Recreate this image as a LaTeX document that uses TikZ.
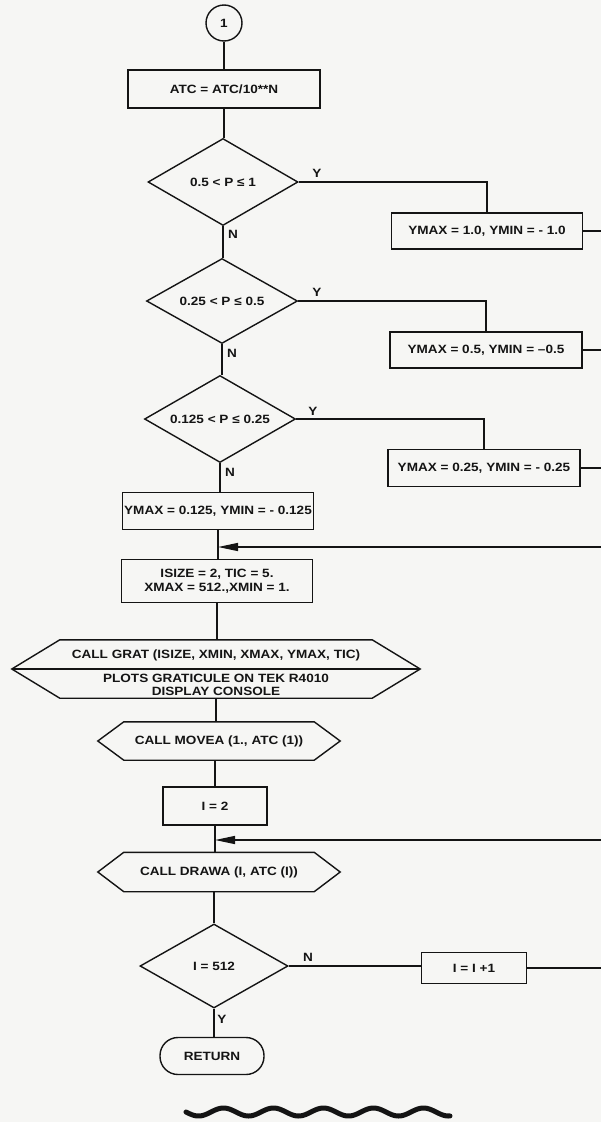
\documentclass[tikz,border=0pt]{standalone}
\usepackage{fontspec}
\setmainfont{Liberation Sans}[FakeStretch=1.13]
\usetikzlibrary{shapes.geometric,arrows.meta}
\newcommand\chartfont{\fontsize{12}{14}\bfseries\selectfont}
\newcommand\tightfont{\fontsize{12}{13}\bfseries\selectfont}
\definecolor{paper}{RGB}{246,246,244}
\definecolor{ink}{RGB}{20,20,20}
\begin{document}
\begin{tikzpicture}[x=1pt,y=-1pt,
  font=\chartfont, text=ink,
  ln/.style={draw=ink, line width=1.4pt},
  arr/.style={ln, -{Triangle[length=20pt,width=8pt]}},
  proc/.style={ln, rectangle, inner sep=2pt, align=center},
  dec/.style={ln, diamond, aspect=1.74, inner sep=0pt},
  conn/.style={ln, circle, minimum size=36pt, inner sep=0pt},
  term/.style={ln, rectangle, rounded corners=18pt, minimum width=104pt, minimum height=37pt},
  hexin/.style={rectangle, inner sep=0pt},
  lbl/.style={inner sep=0pt}]
\useasboundingbox (0,0) rectangle (601,1122);
\fill[paper] (0,0) rectangle (601,1122);

% main column
\node[conn] (c1) at (224,23) {1};
\node[proc, minimum width=192pt, minimum height=38pt] (atc) at (224,89) {ATC = ATC/10**N};
\node[dec, minimum width=150pt, minimum height=87pt] (d1) at (223,182) {0.5 < P ≤ 1};
\node[dec, minimum width=151pt, minimum height=85pt] (d2) at (222,301) {0.25 < P ≤ 0.5};
\node[dec, minimum width=151pt, minimum height=87pt] (d3) at (220,419) {0.125 < P ≤ 0.25};
\node[proc, minimum width=191pt, minimum height=37pt, inner sep=1pt] (b4) at (218,511) {YMAX = 0.125, YMIN = - 0.125};
\node[proc, minimum width=191pt, minimum height=43pt] (isize) at (217,581) {ISIZE = 2, TIC = 5.\\XMAX = 512.,XMIN = 1.};
\node[hexin, minimum width=312pt, minimum height=58pt] (grat) at (216,669) {};
\node[hexin, minimum width=190pt, minimum height=38pt] (movea) at (219,741) {CALL MOVEA (1., ATC (1))};
\node[proc, minimum width=104pt, minimum height=38pt] (i2) at (215,806) {I = 2};
\node[hexin, minimum width=190pt, minimum height=39pt] (drawa) at (219,872) {CALL DRAWA (I, ATC (I))};
\node[dec, minimum width=148pt, minimum height=84pt] (d4) at (214,966) {I = 512};
\node[term] (ret) at (212,1056) {RETURN};

% side boxes
\node[proc, minimum width=191pt, minimum height=36pt] (b1) at (487,231) {YMAX = 1.0, YMIN = - 1.0};
\node[proc, minimum width=192pt, minimum height=36pt] (b2) at (486,350) {YMAX = 0.5, YMIN = –0.5};
\node[proc, minimum width=192pt, minimum height=37pt] (b3) at (484,468) {YMAX = 0.25, YMIN = - 0.25};
\node[proc, minimum width=105pt, minimum height=31pt] (ii) at (474,968) {I = I +1};

% hexagon outlines
\coordinate (gratL) at ([xshift=-48pt]grat.west);
\coordinate (gratR) at ([xshift=48pt]grat.east);
\draw[ln] (grat.north west) -- (grat.north east) -- (gratR) -- (grat.south east)
  -- (grat.south west) -- (gratL) -- cycle;
\draw[ln] (gratL) -- (gratR);
\node[lbl] (gratT) at (216,655) {CALL GRAT (ISIZE, XMIN, XMAX, YMAX, TIC)};
\node[lbl, align=center, font=\tightfont] (gratB) at (216,684.5) {PLOTS GRATICULE ON TEK R4010\\DISPLAY CONSOLE};

\coordinate (moveaL) at ([xshift=-26pt]movea.west);
\coordinate (moveaR) at ([xshift=26pt]movea.east);
\draw[ln] (movea.north west) -- (movea.north east) -- (moveaR) -- (movea.south east)
  -- (movea.south west) -- (moveaL) -- cycle;

\coordinate (drawaL) at ([xshift=-26pt]drawa.west);
\coordinate (drawaR) at ([xshift=26pt]drawa.east);
\draw[ln] (drawa.north west) -- (drawa.north east) -- (drawaR) -- (drawa.south east)
  -- (drawa.south west) -- (drawaL) -- cycle;

% right-edge ends
\coordinate (e1) at (601,231);
\coordinate (e2) at (601,350);
\coordinate (e3) at (601,468);
\coordinate (m1) at (601,547);
\coordinate (m2) at (601,840);
\coordinate (e4) at (601,968);

% main connectors (kept vertical)
\draw[ln] (c1.south) -- (c1.south |- atc.north);
\draw[ln] (atc.south) -- (atc.south |- d1.north);
\draw[ln] (d1.south) -- (d1.south |- d2.north);
\draw[ln] (d2.south) -- (d2.south |- d3.north);
\draw[ln] (d3.south) -- (d3.south |- b4.north);
\draw[ln] (b4.south) -- (b4.south |- isize.north);
\draw[ln] (isize.south) -- (isize.south |- grat.north);
\draw[ln] (grat.south) -- (grat.south |- movea.north);
\draw[ln] (i2.north |- movea.south) -- (i2.north);
\draw[ln] (i2.south) -- (i2.south |- drawa.north);
\draw[ln] (d4.north |- drawa.south) -- (d4.north);
\draw[ln] (d4.south) -- (d4.south |- ret.north);

% branches
\draw[ln] (d1.east) -| (b1.north);
\draw[ln] (d2.east) -| (b2.north);
\draw[ln] (d3.east) -| (b3.north);
\draw[ln] (b1.east) -- (e1);
\draw[ln] (b2.east) -- (e2);
\draw[ln] (b3.east) -- (e3);
\draw[arr] (m1) -- (m1 -| b4.south);
\draw[ln] (d4.east) -- (d4.east -| ii.west);
\draw[ln] (ii.east) -- (e4);
\draw[arr] (m2) -- (m2 -| i2.south);

% labels
\node[lbl] (y1) at (317,173) {Y};
\node[lbl] (n1) at (233,234) {N};
\node[lbl] (y2) at (317,292) {Y};
\node[lbl] (n2) at (232,353) {N};
\node[lbl] (y3) at (313,411) {Y};
\node[lbl] (n3) at (230,472) {N};
\node[lbl] (n4) at (308,957) {N};
\node[lbl] (y4) at (222,1019) {Y};

% wavy end mark
\draw[draw=ink, line width=5pt, line cap=round] plot[domain=0:264, samples=140, smooth]
  ({186+\x}, {1112+4*sin(\x/50*360)});
\end{tikzpicture}
\end{document}
